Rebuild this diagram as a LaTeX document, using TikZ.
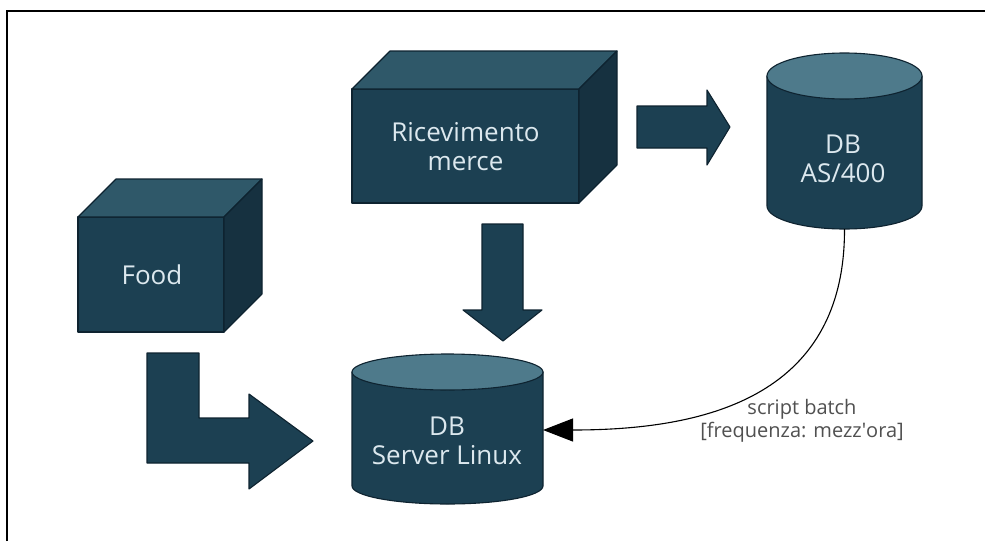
\documentclass[tikz,border=0pt]{standalone}
\usepackage{fontspec}
\setmainfont{Open Sans}
\usetikzlibrary{arrows.meta}

\definecolor{frontc}{HTML}{1C4052}
\definecolor{topc}{HTML}{2F5869}
\definecolor{sidec}{HTML}{163140}
\definecolor{capc}{HTML}{4E7A8B}
\definecolor{edgec}{HTML}{0E2330}
\definecolor{labelc}{HTML}{DCE8EE}
\definecolor{notec}{HTML}{505050}

% 3D box: left, top, right, bottom, depth
\newcommand\drawcuboid[5]{%
  \filldraw[solidshape,fill=frontc] (#1,#2) rectangle (#3,#4);
  \filldraw[solidshape,fill=topc] (#1,#2) -- (#1+#5,#2-#5) -- (#3+#5,#2-#5) -- (#3,#2) -- cycle;
  \filldraw[solidshape,fill=sidec] (#3,#2) -- (#3+#5,#2-#5) -- (#3+#5,#4-#5) -- (#3,#4) -- cycle;
}
% drum: center x, half width, top ellipse center y, bottom ellipse center y, ellipse half height
\newcommand\drawdrum[5]{%
  \filldraw[solidshape,fill=frontc] (#1-#2,#3) -- (#1-#2,#4)
    arc[start angle=180,end angle=360,x radius=#2 pt,y radius=#5 pt]
    -- (#1+#2,#3) -- cycle;
  \filldraw[solidshape,fill=capc] (#1,#3) ellipse [x radius=#2 pt,y radius=#5 pt];
}

\begin{document}
\begin{tikzpicture}[x=1pt,y=-1pt,
  solidshape/.style={draw=edgec,line width=1.1pt,line join=round},
  boxtext/.style={text=labelc,font=\fontsize{26}{29}\selectfont,align=center,inner sep=0pt},
  notetext/.style={text=notec,font=\fontsize{20}{23}\selectfont,align=center,inner sep=0pt},
  flow/.style={draw=black,line width=1.1pt,-{Triangle[length=30pt,width=23pt]}}]

\useasboundingbox (0,0) rectangle (985,541);
\fill[white] (0,0) rectangle (985,541);
\draw[line width=1.2pt] (7,541) -- (7,11) -- (985,11);

% boxes
\drawcuboid{352}{89}{579}{203}{38}
\drawcuboid{78}{217}{224}{332}{38}

% databases
\drawdrum{844.5}{77.5}{76}{206}{23}
\drawdrum{447.5}{95.5}{372}{486}{18}

% block arrows
\filldraw[solidshape,fill=frontc] (637,106) -- (707,106) -- (707,90) -- (730,127)
  -- (707,165) -- (707,148) -- (637,148) -- cycle;
\filldraw[solidshape,fill=frontc] (482,224) -- (523,224) -- (523,310) -- (542,310)
  -- (503,341) -- (463,310) -- (482,310) -- cycle;
\filldraw[solidshape,fill=frontc] (147,353) -- (199,353) -- (199,418) -- (249,418)
  -- (249,394) -- (313,441) -- (249,489) -- (249,463) -- (147,463) -- cycle;

% labels
\node[boxtext] (recv) at (465.5,147) {Ricevimento\\merce};
\node[boxtext] (food) at (152,275) {Food};
\node[boxtext] (as400) at (843,159) {DB\\AS/400};
\node[boxtext] (linux) at (447,441) {DB\\Server Linux};

\coordinate (as400-bottom) at (844.5,229);
\coordinate (linux-east) at (543,430);

\draw[flow] (as400-bottom) .. controls (845,400) and (700,430) .. (linux-east);
\node[notetext] (batch) at (802,421) {script batch\\{[frequenza: mezz\textquotesingle ora]}};
\end{tikzpicture}
\end{document}
